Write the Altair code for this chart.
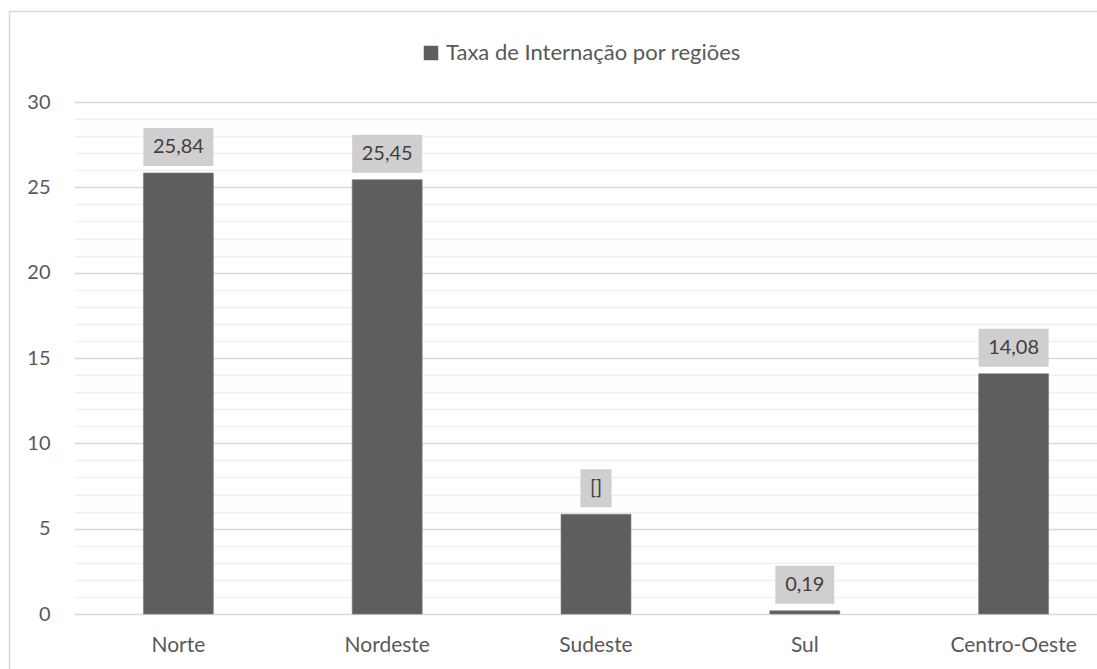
import altair as alt
import pandas as pd

regions = ["Norte", "Nordeste", "Sudeste", "Sul", "Centro-Oeste"]
values = [25.84, 25.45, 5.85, 0.19, 14.08]
labels = ["25,84", "25,45", "[]", "0,19", "14,08"]
series = "Taxa de Internação por regiões"
y_ticks = list(range(0, 31))

df = pd.DataFrame({"regiao": regions, "valor": values, "rotulo": labels, "serie": [series] * len(regions)})

FONT = "Lato"
x_enc = alt.X("regiao:N", sort=regions,
              scale=alt.Scale(range=[0, 1044], paddingInner=0.665, paddingOuter=0.3325),
              axis=alt.Axis(title=None, labelAngle=0, ticks=False, domain=False, grid=False,
                            labelFontSize=21, labelColor="#595959", labelPadding=20, labelFont=FONT))
y_enc = alt.Y("valor:Q", scale=alt.Scale(domain=[0, 30], nice=False),
              axis=alt.Axis(title=None, values=y_ticks, tickCount=31, ticks=False, domain=False, grid=True,
                            labelOverlap=False, labelFlush=False,
                            gridColor={"condition": {"test": "datum.value % 5 === 0", "value": "#d9d9d9"}, "value": "#f0f0f0"},
                            gridWidth=1.3,
                            labelExpr="datum.value % 5 === 0 ? datum.label : ''",
                            labelFontSize=20, labelColor="#595959", labelPadding=24, labelFont=FONT))

base = alt.Chart(df)

bars = base.mark_bar(stroke="#7a7a7a", strokeWidth=0.6).encode(
    x=x_enc, y=y_enc,
    color=alt.Color("serie:N", scale=alt.Scale(range=["#5e5e5e"]),
                    legend=alt.Legend(title=None, orient="none", legendX=346, legendY=-60,
                                      symbolType="square", symbolSize=210, symbolStrokeWidth=0,
                                      labelFontSize=22, labelColor="#595959", labelFont=FONT,
                                      labelLimit=700, padding=0, labelOffset=4)),
)

boxes = base.mark_bar(color="#d0cece", yOffset=-7, y2Offset=-45,
                      width=alt.ExprRef("length(replace(datum.rotulo, regexp('[^0-9]', 'g'), ''))*11.1 + length(replace(datum.rotulo, regexp('[0-9]', 'g'), ''))*5.6 + 20")).encode(
    x=alt.X("regiao:N", sort=regions), y=alt.Y("valor:Q"), y2=alt.Y2("valor")
)

texts = base.mark_text(dy=-26, baseline="middle", fontSize=20, color="#404040", font=FONT).encode(
    x=alt.X("regiao:N", sort=regions), y=alt.Y("valor:Q"), text="rotulo:N"
)

border = alt.Chart(pd.DataFrame({"a": [0]})).mark_rect(fill="transparent", stroke="#d9d9d9", strokeWidth=1.5).encode(
    x=alt.value(-64.5), x2=alt.value(1040), y=alt.value(-90.5), y2=alt.value(600)
)

chart = alt.layer(border, bars, boxes, texts).properties(
    width=1023, height=512,
    autosize=alt.AutoSizeParams(type="none"),
    padding={"left": 74, "top": 102, "right": 0, "bottom": 55},
    background="white",
).configure_view(stroke=None)

chart.save("out.html", embed_options={"renderer": "svg", "actions": False})
